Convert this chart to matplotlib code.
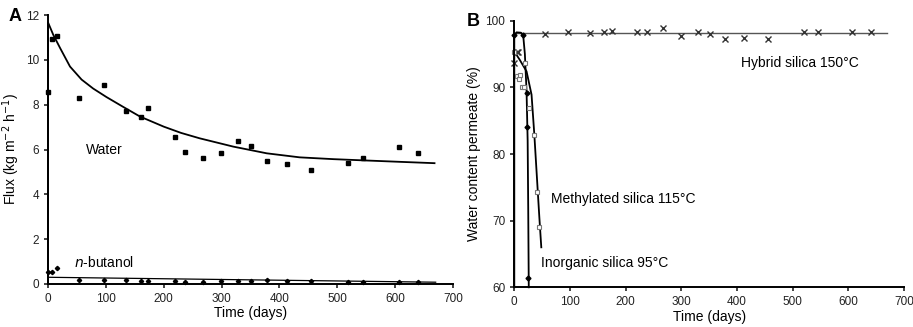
import numpy as np
import matplotlib
matplotlib.use('Agg')
import matplotlib.pyplot as plt

plt.rcParams['font.family'] = ['Liberation Sans', 'DejaVu Sans']

# panel A data
days_a = [0, 7, 16, 54, 96, 134, 161, 173, 220, 237, 268, 299, 329, 350, 379, 413, 455, 519, 545, 606, 640]
water = [8.56, 10.93, 11.08, 8.30, 8.86, 7.70, 7.45, 7.84, 6.54, 5.89, 5.62, 5.83, 6.39, 6.17, 5.49, 5.34, 5.10, 5.40, 5.61, 6.11, 5.83]
butanol = [0.55, 0.53, 0.73, 0.18, 0.16, 0.16, 0.12, 0.13, 0.12, 0.10, 0.07, 0.14, 0.13, 0.14, 0.16, 0.15, 0.14, 0.10, 0.10, 0.10, 0.10]
water_fit_days = [0, 0, 9, 21, 38, 58, 78, 101, 130, 159, 200, 230, 262, 320, 378, 435, 493, 550, 608, 668]
water_fit = [0, 11.67, 11.12, 10.52, 9.70, 9.12, 8.72, 8.34, 7.90, 7.47, 7.02, 6.74, 6.50, 6.13, 5.83, 5.65, 5.57, 5.51, 5.45, 5.39]
butanol_fit_days = [0, 670]
butanol_fit = [0.30, 0.08]

# panel B data
hyb_days = [0, 4, 7, 55, 96, 136, 161, 175, 221, 238, 267, 300, 330, 351, 379, 413, 456, 520, 546, 607, 641]
hybrid = [93.6, 95.3, 95.25, 97.95, 98.35, 98.1, 98.35, 98.45, 98.35, 98.35, 98.9, 97.75, 98.25, 97.95, 97.25, 97.45, 97.25, 98.25, 98.25, 98.35, 98.35]
hyb_fit_days = [0, 670]
hyb_fit = [98.1, 98.1]

meth_days = [0, 5, 8, 10, 13, 18, 19, 27, 35, 41, 44]
methyl = [95.35, 91.7, 91.3, 91.85, 90.0, 90.0, 93.6, 86.85, 82.85, 74.35, 69.0]
meth_fit_days = [0, 10, 22, 31, 36, 41, 45, 48.5]
meth_fit = [95.4, 94.1, 92.4, 88.9, 82.9, 76.0, 70.5, 66.0]

inorg_days = [0, 16, 22, 22, 25]
inorg = [97.85, 97.85, 89.1, 84.1, 61.35]
inorg_fit_days = [0, 0, 4, 12, 16, 19, 22, 24, 25, 26]
inorg_fit = [60, 97.8, 98.25, 98.2, 97.8, 95.0, 89.5, 82.0, 72.0, 60.0]

fig = plt.figure(figsize=(9.13, 3.27), dpi=100)
ax1 = fig.add_axes([0.0526, 0.1315, 0.4436, 0.8226])
ax2 = fig.add_axes([0.5633, 0.1214, 0.4268, 0.8153])

def style_ax(ax):
    for s in ['top', 'right']:
        ax.spines[s].set_visible(False)
    for s in ['left', 'bottom']:
        ax.spines[s].set_linewidth(1.4)
    ax.tick_params(direction='out', length=3, width=1.2, labelsize=8.5, colors='#222222')
    ax.set_xlim(0, 700)
    ax.set_xticks(range(0, 701, 100))
    ax.set_xlabel('Time (days)', fontsize=10, labelpad=1)

# A
style_ax(ax1)
ax1.plot(water_fit_days, water_fit, '-', color='black', lw=1.3, clip_on=False)
ax1.plot(butanol_fit_days, butanol_fit, '-', color='black', lw=0.9)
ax1.plot(days_a, water, 's', color='black', ms=3.2, clip_on=False)
ax1.plot(days_a, butanol, 'D', color='black', ms=2.2, clip_on=False)
ax1.set_ylim(0, 12)
ax1.set_yticks(range(0, 13, 2))
ax1.set_ylabel('Flux (kg m$^{-2}$ h$^{-1}$)', fontsize=10, labelpad=3)
ax1.text(65, 6.0, 'Water', fontsize=10, va='center')
ax1.text(45, 0.95, '$\\it{n}$-butanol', fontsize=10, va='center')
fig.text(0.009, 0.935, 'A', fontsize=13, fontweight='bold')

# B
style_ax(ax2)
ax2.plot(hyb_fit_days, hyb_fit, '-', color='#555555', lw=1.0)
ax2.plot(meth_fit_days, meth_fit, '-', color='black', lw=1.3)
ax2.plot(inorg_fit_days, inorg_fit, '-', color='black', lw=1.3, clip_on=False)
ax2.plot(hyb_days, hybrid, 'x', color='#333333', ms=4, mew=1.0, clip_on=False)
ax2.plot(meth_days, methyl, 's', mfc='white', mec='#777777', ms=3.5, mew=0.8, clip_on=False)
ax2.plot(inorg_days, inorg, 'D', color='black', ms=2.5, clip_on=False)
ax2.set_ylim(60, 100)
ax2.set_yticks(range(60, 101, 10))
ax2.set_ylabel('Water content permeate (%)', fontsize=10, labelpad=3)
ax2.text(408, 93.7, 'Hybrid silica 150°C', fontsize=10, va='center')
ax2.text(66, 73.25, 'Methylated silica 115°C', fontsize=10, va='center')
ax2.text(48, 63.7, 'Inorganic silica 95°C', fontsize=10, va='center')
fig.text(0.511, 0.92, 'B', fontsize=13, fontweight='bold')

fig.savefig('out.png', dpi=100)
